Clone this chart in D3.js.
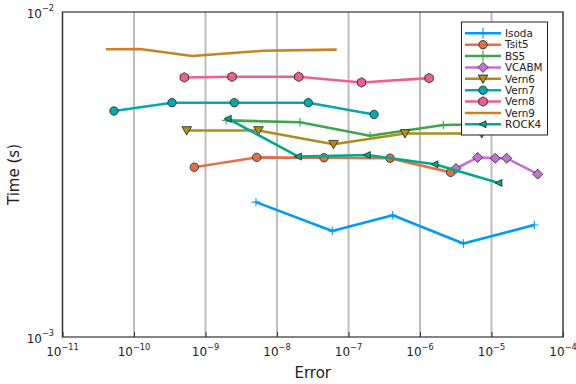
<!DOCTYPE html>
<html><head><meta charset="utf-8">
<script src="https://cdn.jsdelivr.net/npm/d3@7"></script>
<style>body{margin:0;background:#fff}svg{display:block}</style>
</head><body>
<script>
const seriesNames = ["Isoda","Tsit5","BS5","VCABM","Vern6","Vern7","Vern8","Vern9","ROCK4"];
const colors = ["#009AFA","#E36F47","#3EA44E","#C371D2","#AC8E18","#00AAAE","#ED5E93","#C68225","#00A98D"];
const markers = ["cross","circle","cross","diamond","dtriangle","circle","hexagon","none","ltriangle"];

const isodaErr  = [5.08e-9, 5.93e-8, 4.15e-7, 4.04e-6, 3.97e-5];
const isodaTime = [2.60e-3, 2.12e-3, 2.37e-3, 1.94e-3, 2.21e-3];
const tsit5Err  = [6.97e-10, 5.20e-9, 4.54e-8, 3.80e-7, 2.68e-6];
const tsit5Time = [3.33e-3, 3.57e-3, 3.56e-3, 3.55e-3, 3.21e-3];
const bs5Err    = [1.94e-9, 2.10e-8, 2.00e-7, 2.12e-6, 9.53e-6];
const bs5Time   = [4.64e-3, 4.58e-3, 4.16e-3, 4.49e-3, 4.52e-3];
const vcabmErr  = [3.18e-6, 6.41e-6, 1.13e-5, 1.63e-5, 4.43e-5];
const vcabmTime = [3.30e-3, 3.57e-3, 3.55e-3, 3.55e-3, 3.17e-3];
const vern6Err  = [5.46e-10, 5.51e-9, 6.17e-8, 6.17e-7, 7.30e-6];
const vern6Time = [4.32e-3, 4.32e-3, 3.92e-3, 4.23e-3, 4.23e-3];
const vern7Err  = [5.25e-11, 3.40e-10, 2.53e-9, 2.74e-8, 2.28e-7];
const vern7Time = [4.96e-3, 5.26e-3, 5.26e-3, 5.26e-3, 4.84e-3];
const vern8Err  = [5.05e-10, 2.35e-9, 2.01e-8, 1.52e-7, 1.34e-6];
const vern8Time = [6.29e-3, 6.32e-3, 6.32e-3, 6.07e-3, 6.26e-3];
const vern9Err  = [4.02e-11, 1.21e-10, 6.53e-10, 6.43e-9, 6.84e-8];
const vern9Time = [7.68e-3, 7.69e-3, 7.32e-3, 7.60e-3, 7.66e-3];
const rock4Err  = [2.08e-9, 1.99e-8, 1.83e-7, 1.62e-6, 1.27e-5];
const rock4Time = [4.69e-3, 3.59e-3, 3.63e-3, 3.40e-3, 2.98e-3];

const xTickExps = [-11,-10,-9,-8,-7,-6,-5,-4];
const yTickExps = [-3,-2];

const errs  = [isodaErr,tsit5Err,bs5Err,vcabmErr,vern6Err,vern7Err,vern8Err,vern9Err,rock4Err];
const times = [isodaTime,tsit5Time,bs5Time,vcabmTime,vern6Time,vern7Time,vern8Time,vern9Time,rock4Time];

const W=576,H=384;
const L=62.5,R=563,T=12,B=337;
const svg=d3.select("body").append("svg").attr("width",W).attr("height",H)
  .style("font-family","'DejaVu Sans', sans-serif");

const x=d3.scaleLog().domain([1e-11,1e-4]).range([L,R]);
const y=d3.scaleLog().domain([1e-3,1e-2]).range([B,T]);

// grid
svg.append("g").selectAll("line").data(xTickExps).join("line")
  .attr("x1",d=>x(Math.pow(10,d))).attr("x2",d=>x(Math.pow(10,d)))
  .attr("y1",T).attr("y2",B).attr("stroke","#bdbdbd").attr("stroke-width",2);

// bottom inside ticks
const xAxis=d3.axisBottom(x).tickValues(xTickExps.map(e=>Math.pow(10,e))).tickSizeInner(-5).tickSizeOuter(0).tickFormat("");
svg.append("g").attr("transform",`translate(0,${B})`).call(xAxis)
  .call(g=>g.select(".domain").remove())
  .call(g=>g.selectAll(".tick line").attr("stroke","#333").attr("stroke-width",1));

// frame
svg.append("rect").attr("x",L).attr("y",T).attr("width",R-L).attr("height",B-T)
  .attr("fill","none").attr("stroke","#333").attr("stroke-width",1.2);

const xl=svg.append("g");
xTickExps.forEach(e=>{
  const t=xl.append("text").attr("x",x(Math.pow(10,e))).attr("y",356).attr("text-anchor","middle")
    .attr("font-size",12).attr("fill","#222");
  t.append("tspan").text("10");
  t.append("tspan").attr("dy",-6.5).attr("font-size",8.2).text("\u2212"+Math.abs(e));
});
const yl=svg.append("g");
yTickExps.forEach(e=>{
  const t=yl.append("text").attr("x",54).attr("y",y(Math.pow(10,e))+5.8).attr("text-anchor","end")
    .attr("font-size",12).attr("fill","#222");
  t.append("tspan").text("10");
  t.append("tspan").attr("dy",-6.5).attr("font-size",8.2).text("\u2212"+Math.abs(e));
});

svg.append("text").attr("x",(L+R)/2).attr("y",378).attr("text-anchor","middle")
  .attr("font-size",15).attr("fill","#222").text("Error");
svg.append("text").attr("transform",`translate(19,${(T+B)/2}) rotate(-90)`).attr("text-anchor","middle")
  .attr("font-size",15).attr("fill","#222").text("Time (s)");

function drawMarker(g,type,cx,cy,color){
  const s=4.2;
  if(type==="none")return;
  if(type==="cross"){
    g.append("path").attr("d",`M${cx-s},${cy}H${cx+s}M${cx},${cy-s}V${cy+s}`)
      .attr("stroke",color).attr("stroke-width",1.1).attr("fill","none");
    return;
  }
  let el;
  if(type==="circle") el=g.append("circle").attr("cx",cx).attr("cy",cy).attr("r",4.2);
  else {
    let pts;
    if(type==="diamond") pts=[[0,-5],[5,0],[0,5],[-5,0]];
    else if(type==="dtriangle") pts=[[-4.8,-3.8],[4.8,-3.8],[0,4.6]];
    else if(type==="ltriangle") pts=[[-4,0],[3,-3.5],[3,3.5]];
    else if(type==="hexagon") pts=d3.range(6).map(i=>{const a=Math.PI/3*i-Math.PI/2;return [4.8*Math.cos(a),4.8*Math.sin(a)];});
    el=g.append("path").attr("d","M"+pts.map(p=>[cx+p[0],cy+p[1]].join(",")).join("L")+"Z");
  }
  el.attr("fill",color).attr("stroke","#222").attr("stroke-width",0.8);
}

const line=d3.line().x(d=>x(d[0])).y(d=>y(d[1]));
const plot=svg.append("g");
seriesNames.forEach((n,i)=>{
  const data=errs[i].map((e,j)=>[e,times[i][j]]);
  const g=plot.append("g");
  g.append("path").datum(data).attr("d",line).attr("fill","none")
    .attr("stroke",colors[i]).attr("stroke-width",2.6).attr("stroke-linejoin","round");
  data.forEach(d=>drawMarker(g,markers[i],x(d[0]),y(d[1]),colors[i]));
});

// legend
const lg=svg.append("g");
lg.append("rect").attr("x",461.5).attr("y",22).attr("width",86).attr("height",113)
  .attr("fill","#fff").attr("stroke","#222").attr("stroke-width",1);
seriesNames.forEach((n,i)=>{
  const ly=33.3+i*11.375;
  lg.append("line").attr("x1",465).attr("x2",501).attr("y1",ly).attr("y2",ly)
    .attr("stroke",colors[i]).attr("stroke-width",2.6);
  if(markers[i]==="cross"){
    lg.append("path").attr("d",`M483,${ly-5.5}V${ly+5.5}`).attr("stroke",colors[i]).attr("stroke-width",1.1);
  } else drawMarker(lg,markers[i],483,ly,colors[i]);
  lg.append("text").attr("x",505).attr("y",ly+3.7).attr("font-size",10.4).attr("fill","#222").text(n);
});
</script>
</body></html>
